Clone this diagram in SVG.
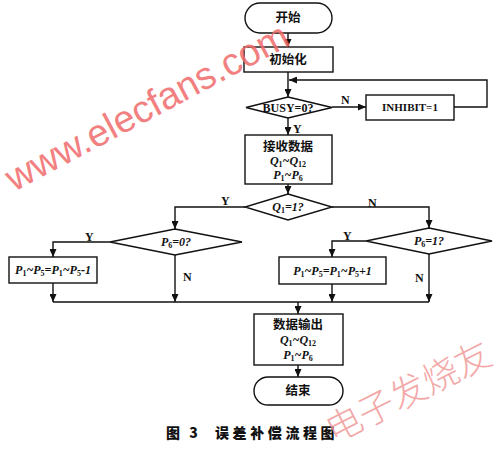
<svg xmlns="http://www.w3.org/2000/svg" width="500" height="453" viewBox="0 0 500 453">
<style>
.b{fill:#fff;stroke:#111;stroke-width:1.4}
.l{fill:none;stroke:#111;stroke-width:1.4}
.cn{font-family:"Noto Sans CJK SC",sans-serif;font-weight:700;font-size:12.5px;fill:#111;text-anchor:middle}
.t{font-family:"Liberation Serif",serif;font-weight:700;font-size:12px;fill:#111;text-anchor:middle}
.m{font-family:"Liberation Serif",serif;font-weight:700;font-style:italic;font-size:12px;fill:#111;text-anchor:middle}
.s{font-size:8px;font-style:normal}
.lb{font-family:"Liberation Serif",serif;font-weight:700;font-size:12px;fill:#111}
.wm{font-family:"Liberation Sans",Arial,sans-serif;font-size:38px;fill:#f06a6a;opacity:0.85}
.wm2{font-family:"Noto Sans CJK SC",sans-serif;font-weight:300;font-size:36px;fill:#f29a9a;opacity:0.85}
.cap{font-family:"Noto Sans CJK SC",sans-serif;font-weight:900;font-size:14px;fill:#111}
</style>
<defs>
<marker id="a" markerWidth="8" markerHeight="7" refX="8" refY="3.5" orient="auto" markerUnits="userSpaceOnUse">
<path d="M0,0 L8,3.5 L0,7 z" fill="#111"/>
</marker>
</defs>
<rect width="500" height="453" fill="#fff"/>

<g id="connectors">
<line class="l" x1="288" y1="33" x2="288" y2="47" marker-end="url(#a)"/>
<line class="l" x1="288" y1="72" x2="288" y2="97" marker-end="url(#a)"/>
<polyline class="l" points="454,107 487,107 487,80 289,80" marker-end="url(#a)"/>
<line class="l" x1="332" y1="107" x2="366" y2="107" marker-end="url(#a)"/>
<line class="l" x1="288" y1="118" x2="288" y2="135" marker-end="url(#a)"/>
<line class="l" x1="288" y1="184" x2="288" y2="194" marker-end="url(#a)"/>
<polyline class="l" points="245,207 175,207 175,229" marker-end="url(#a)"/>
<polyline class="l" points="332,207 429,207 429,228" marker-end="url(#a)"/>
<polyline class="l" points="110,242 53,242 53,257" marker-end="url(#a)"/>
<polyline class="l" points="366,241 332,241 332,257" marker-end="url(#a)"/>
<line class="l" x1="53" y1="283" x2="53" y2="302" marker-end="url(#a)"/>
<line class="l" x1="175" y1="255" x2="175" y2="302" marker-end="url(#a)"/>
<line class="l" x1="332" y1="284" x2="332" y2="302" marker-end="url(#a)"/>
<line class="l" x1="429" y1="254" x2="429" y2="302" marker-end="url(#a)"/>
<line class="l" x1="53" y1="302" x2="429" y2="302"/>
<line class="l" x1="298" y1="302" x2="298" y2="314" marker-end="url(#a)"/>
<line class="l" x1="298" y1="365" x2="298" y2="377" marker-end="url(#a)"/>
<text class="lb" x="341" y="104">N</text>
<text class="lb" x="293" y="133">Y</text>
<text class="lb" x="221" y="205">Y</text>
<text class="lb" x="368" y="207">N</text>
<text class="lb" x="85" y="241">Y</text>
<text class="lb" x="183" y="281">N</text>
<text class="lb" x="343" y="240">Y</text>
<text class="lb" x="415" y="282">N</text>
</g>

<g id="start">
<rect class="b" x="245" y="3" width="87" height="30" rx="15"/>
<text class="cn" x="288" y="22">开始</text>
</g>
<g id="init">
<rect class="b" x="244" y="47" width="89" height="25"/>
<text class="cn" x="288" y="64">初始化</text>
</g>
<g id="busy">
<polygon class="b" points="288,97 332,107.5 288,118 246,107.5"/>
<text class="t" x="288" y="112">BUSY=0?</text>
</g>
<g id="inhibit">
<rect class="b" x="366" y="95" width="88" height="25"/>
<text class="t" x="410" y="111" style="font-size:11px">INHIBIT=1</text>
</g>
<g id="receive">
<rect class="b" x="245" y="135" width="87" height="49"/>
<text class="cn" x="288" y="151">接收数据</text>
<text class="m" x="288" y="165">Q<tspan class="s" dy="2">1</tspan><tspan dy="-2">~Q</tspan><tspan class="s" dy="2">12</tspan></text>
<text class="m" x="288" y="179">P<tspan class="s" dy="2">1</tspan><tspan dy="-2">~P</tspan><tspan class="s" dy="2">6</tspan></text>
</g>
<g id="q1">
<polygon class="b" points="288,194 332,207 288,220 245,207"/>
<text class="m" x="288" y="211">Q<tspan class="s" dy="2">1</tspan><tspan dy="-2">=1?</tspan></text>
</g>
<g id="p6zero">
<polygon class="b" points="175,229 242,242 175,255 110,242"/>
<text class="m" x="176" y="246">P<tspan class="s" dy="2">6</tspan><tspan dy="-2">=0?</tspan></text>
</g>
<g id="p6one">
<polygon class="b" points="429,228 492,241 429,254 366,241"/>
<text class="m" x="429" y="245">P<tspan class="s" dy="2">6</tspan><tspan dy="-2">=1?</tspan></text>
</g>
<g id="minus">
<rect class="b" x="9" y="257" width="88" height="26"/>
<text class="m" x="53" y="274">P<tspan class="s" dy="2">1</tspan><tspan dy="-2">~P</tspan><tspan class="s" dy="2">5</tspan><tspan dy="-2">=P</tspan><tspan class="s" dy="2">1</tspan><tspan dy="-2">~P</tspan><tspan class="s" dy="2">5</tspan><tspan dy="-2">-1</tspan></text>
</g>
<g id="plus">
<rect class="b" x="279" y="257" width="107" height="27"/>
<text class="m" x="332.5" y="275">P<tspan class="s" dy="2">1</tspan><tspan dy="-2">~P</tspan><tspan class="s" dy="2">5</tspan><tspan dy="-2">=P</tspan><tspan class="s" dy="2">1</tspan><tspan dy="-2">~P</tspan><tspan class="s" dy="2">5</tspan><tspan dy="-2">+1</tspan></text>
</g>
<g id="output">
<rect class="b" x="254" y="314" width="89" height="51"/>
<text class="cn" x="298" y="329">数据输出</text>
<text class="m" x="298" y="344">Q<tspan class="s" dy="2">1</tspan><tspan dy="-2">~Q</tspan><tspan class="s" dy="2">12</tspan></text>
<text class="m" x="298" y="359">P<tspan class="s" dy="2">1</tspan><tspan dy="-2">~P</tspan><tspan class="s" dy="2">6</tspan></text>
</g>
<g id="end">
<rect class="b" x="254" y="377" width="89" height="28" rx="14"/>
<text class="cn" x="298" y="395">结束</text>
</g>

<text class="cap" x="166" y="438" style="letter-spacing:3px">图 3</text>
<text class="cap" x="215" y="438" style="letter-spacing:3.6px">误差补偿流程图</text>

<text class="wm" transform="translate(14,192) rotate(-28)">www.elecfans.com</text>
<text class="wm2" transform="translate(334,444) rotate(-27)">电子发烧友</text>
</svg>
